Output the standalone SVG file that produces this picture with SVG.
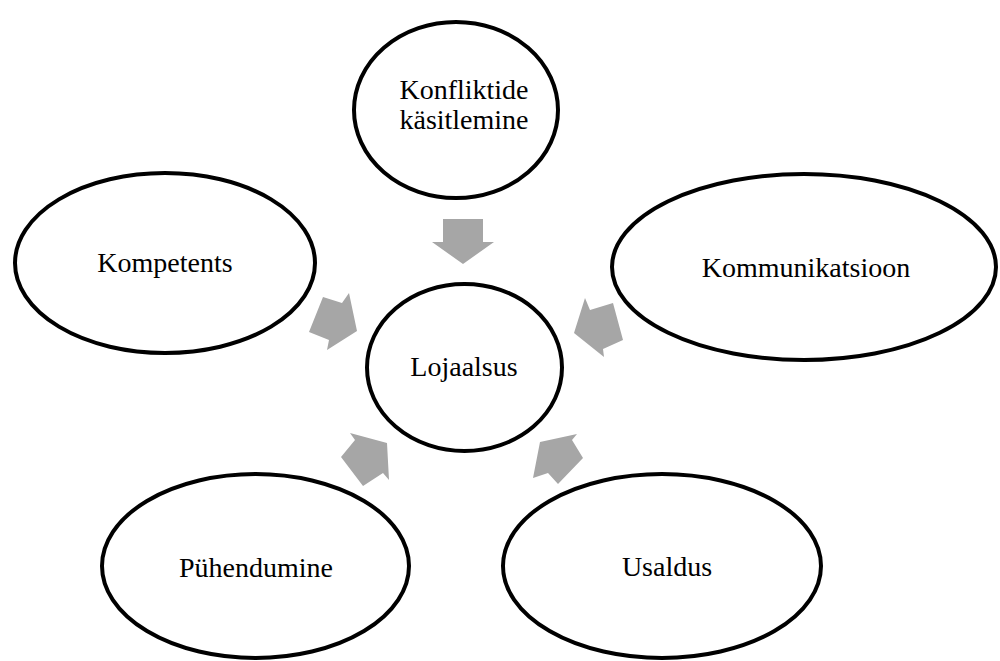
<svg xmlns="http://www.w3.org/2000/svg" width="1000" height="661" viewBox="0 0 1000 661">
<style>
.node ellipse{fill:#fff;stroke:#000;stroke-width:4}
.node text{font-family:"Liberation Serif","Times New Roman",serif;font-size:28px;fill:#000;text-anchor:middle}
.conn polygon{fill:#a6a6a6;stroke:none}
</style>
<rect width="1000" height="661" fill="#fff"/>
<g id="connectors" class="conn">
<polygon points="443,219 483,219 483,242 494,242 463,264 432,242 443,242"/>
<polygon points="349,293 357,331 327,350 329,340 309,332 323,297 342,303"/>
<polygon points="585,298 590,310 613,303 623,340 603,349 604,357 574,333"/>
<polygon points="350,433 387,443 389,480 383,473 363,486 341,457 355,440"/>
<polygon points="577,434 572,440 583,458 558,484 548,473 533,478 540,442"/>
</g>
<g id="node-konfliktide" class="node">
<ellipse cx="456" cy="110" rx="102" ry="88"/>
<text x="464" y="99">Konfliktide</text>
<text x="464" y="129">käsitlemine</text>
</g>
<g id="node-kompetents" class="node">
<ellipse cx="165" cy="263" rx="150" ry="90"/>
<text x="165" y="272">Kompetents</text>
</g>
<g id="node-kommunikatsioon" class="node">
<ellipse cx="804" cy="267" rx="192" ry="93"/>
<text x="806" y="277">Kommunikatsioon</text>
</g>
<g id="node-lojaalsus" class="node">
<ellipse cx="464.5" cy="367.5" rx="97.5" ry="83.5"/>
<text x="464" y="376">Lojaalsus</text>
</g>
<g id="node-puhendumine" class="node">
<ellipse cx="255.5" cy="566" rx="153.5" ry="92"/>
<text x="256" y="577">Pühendumine</text>
</g>
<g id="node-usaldus" class="node">
<ellipse cx="662" cy="566" rx="159" ry="92"/>
<text x="667" y="576">Usaldus</text>
</g>
</svg>
